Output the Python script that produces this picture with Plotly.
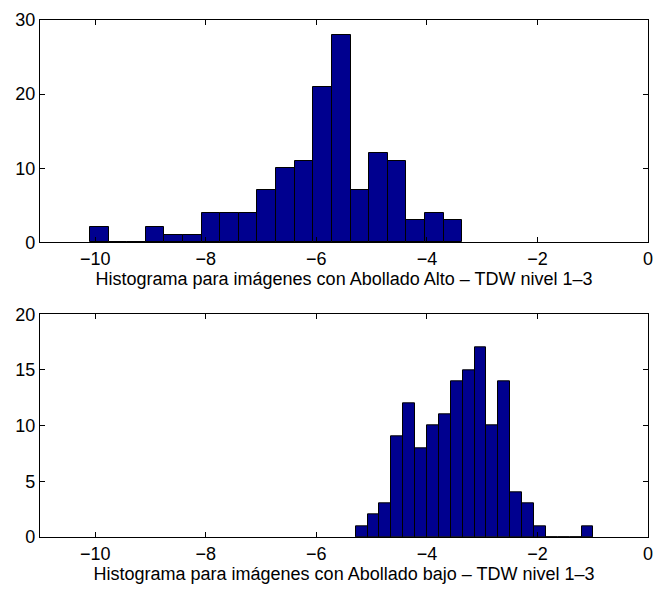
import plotly.graph_objects as go
from plotly.subplots import make_subplots

# Top histogram (Abollado Alto)
alto_centers = [-9.928, -9.591, -9.254, -8.917, -8.581, -8.244, -7.907, -7.570, -7.234, -6.897,
                -6.560, -6.223, -5.886, -5.550, -5.213, -4.876, -4.539, -4.202, -3.866, -3.529]
alto_counts = [2, 0, 0, 2, 1, 1, 4, 4, 4, 7, 10, 11, 21, 28, 7, 12, 11, 3, 4, 3]
alto_width = 0.3368

# Bottom histogram (Abollado bajo)
bajo_centers = [-5.181, -4.966, -4.751, -4.536, -4.321, -4.106, -3.891, -3.676, -3.460, -3.245,
                -3.030, -2.815, -2.600, -2.385, -2.170, -1.955, -1.740, -1.525, -1.310, -1.095]
bajo_counts = [1, 2, 3, 9, 12, 8, 10, 11, 14, 15, 17, 10, 14, 4, 3, 1, 0, 0, 0, 1]
bajo_width = 0.2151

x_ticks = [-10, -8, -6, -4, -2, 0]
y_ticks_top = [0, 10, 20, 30]
y_ticks_bottom = [0, 5, 10, 15, 20]

title_top = "Histograma para imágenes con Abollado Alto – TDW nivel 1–3"
title_bottom = "Histograma para imágenes con Abollado bajo – TDW nivel 1–3"

fig = make_subplots(rows=2, cols=1)

bar_color = "rgb(0,0,143)"
fig.add_trace(go.Bar(x=alto_centers, y=alto_counts, width=alto_width,
                     marker=dict(color=bar_color, line=dict(color="black", width=1))),
              row=1, col=1)
fig.add_trace(go.Bar(x=bajo_centers, y=bajo_counts, width=bajo_width,
                     marker=dict(color=bar_color, line=dict(color="black", width=1))),
              row=2, col=1)

font = dict(family="Liberation Sans, Arial, sans-serif", size=18, color="black")

axis_common = dict(showgrid=False, zeroline=False, showline=True, linecolor="black",
                   linewidth=1.3, mirror="ticks", ticks="inside", ticklen=5,
                   tickcolor="black", tickwidth=1, tickfont=font, automargin=False)

fig.update_xaxes(range=[-11, 0], tickvals=x_ticks, ticklabeloverflow="allow", **axis_common)
fig.update_xaxes(title=dict(text=title_top, font=font, standoff=4), domain=[0, 1], row=1, col=1)
fig.update_xaxes(title=dict(text=title_bottom, font=font, standoff=3), domain=[0, 1], row=2, col=1)
fig.update_yaxes(range=[0, 30], tickvals=y_ticks_top, domain=[0.570, 1.0], row=1, col=1, **axis_common)
fig.update_yaxes(range=[0, 20], tickvals=y_ticks_bottom, domain=[0.0, 0.4307], row=2, col=1, **axis_common)

fig.update_layout(
    width=654, height=589,
    margin=dict(l=40, r=6, t=20, b=52),
    paper_bgcolor="white", plot_bgcolor="white",
    showlegend=False, bargap=0, font=font,
)

fig.write_html("out.html", config={"displayModeBar": False},
               post_script="document.body.style.margin='0';")
